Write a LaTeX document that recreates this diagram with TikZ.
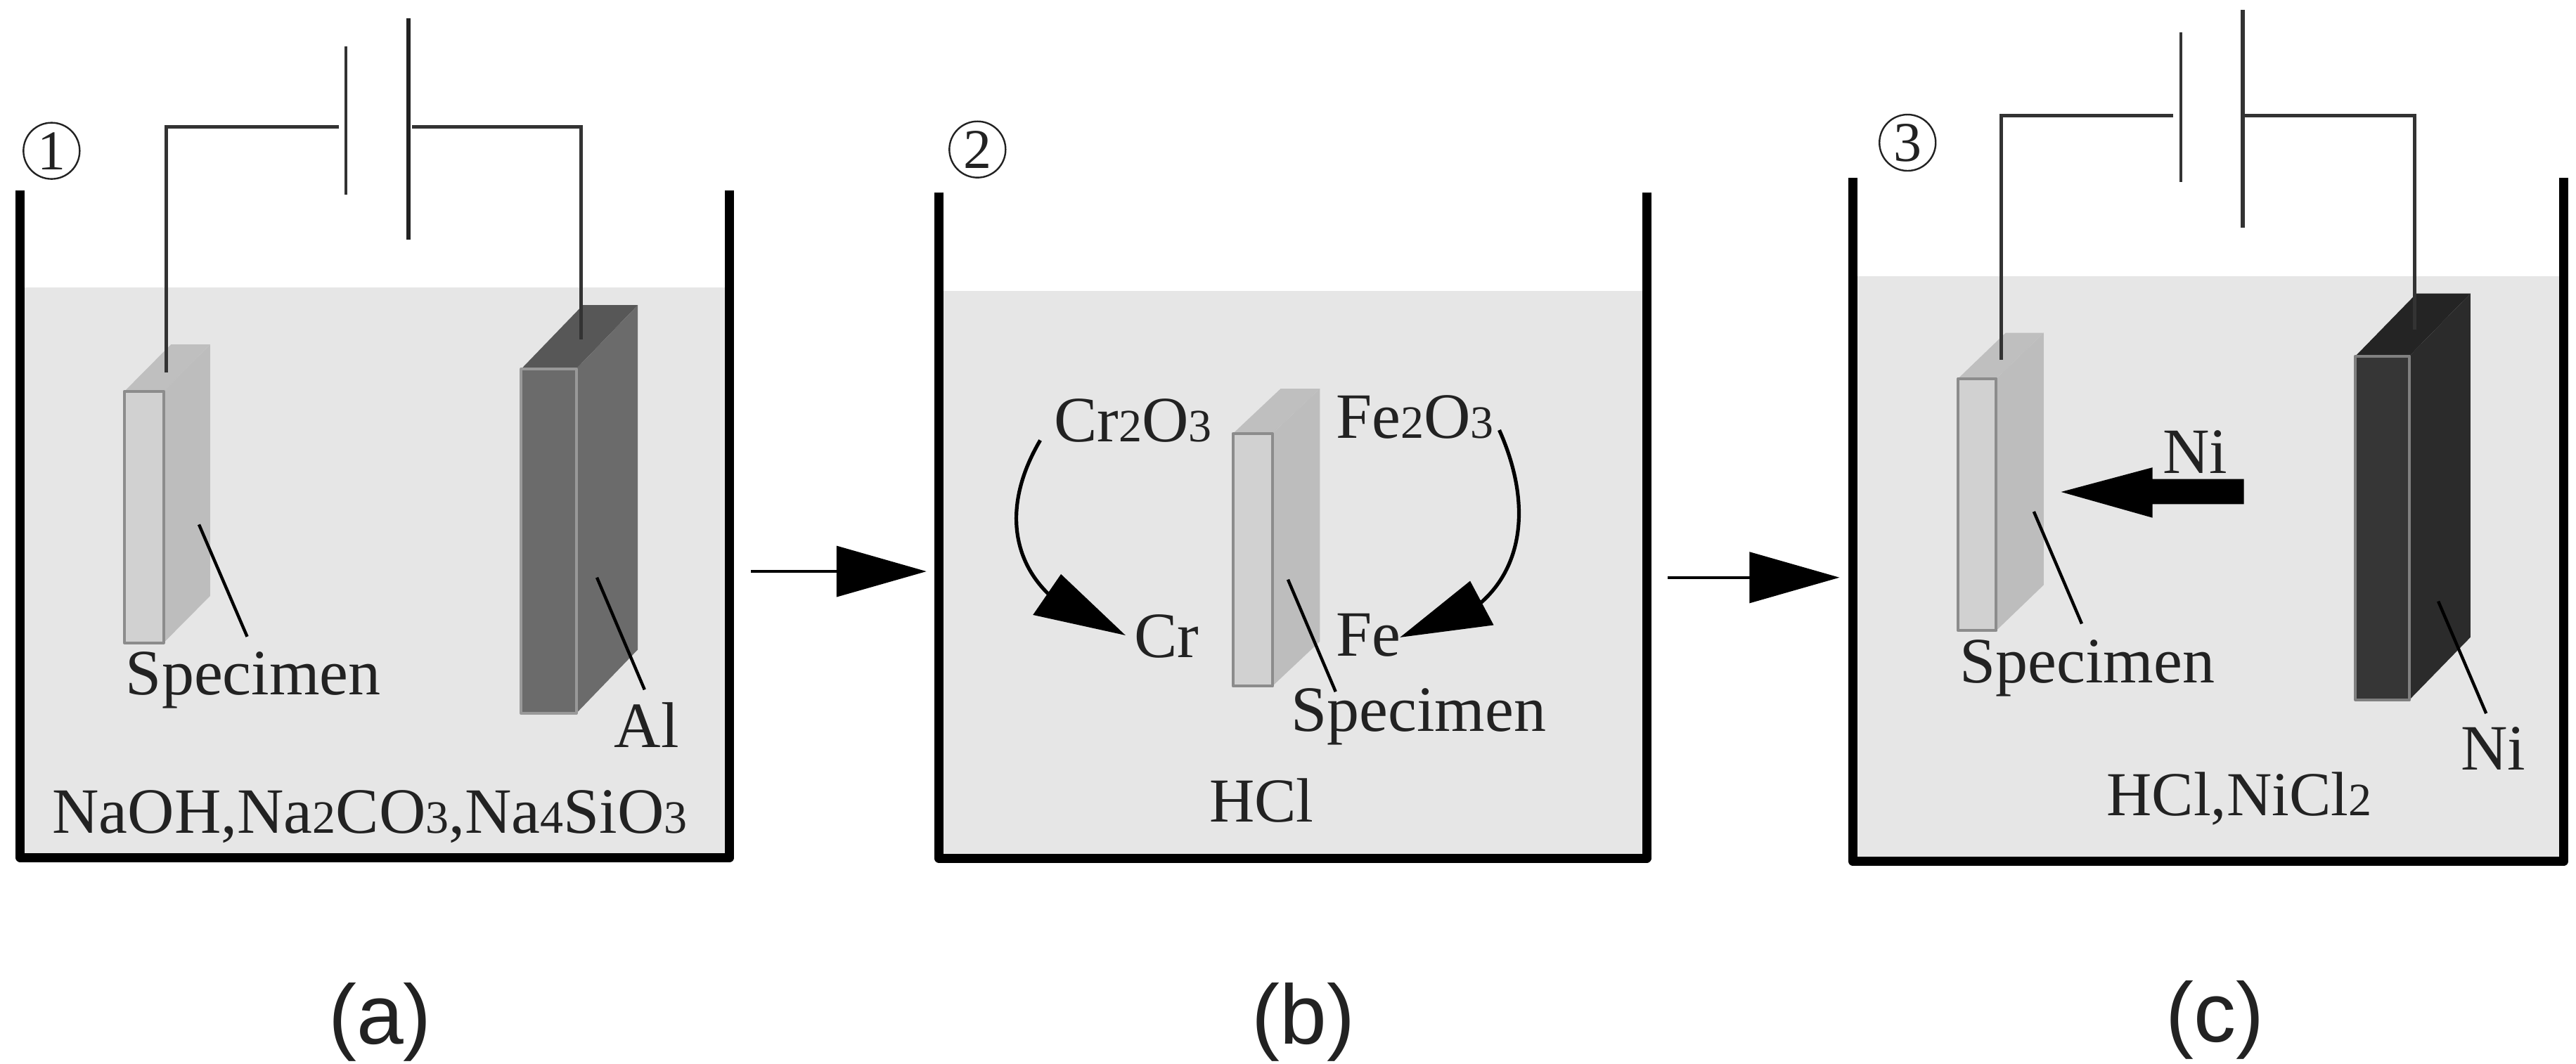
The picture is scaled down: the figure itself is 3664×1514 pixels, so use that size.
\documentclass[tikz,border=0pt]{standalone}
\usepackage{fontspec}
\setmainfont{Liberation Serif}
\newfontfamily\capfont{Liberation Sans}
\usetikzlibrary{arrows.meta,shapes.geometric}
\newcommand{\dg}[1]{{\fontsize{33}{34}\selectfont #1}}
\definecolor{water}{HTML}{E6E6E6}
\definecolor{ink}{HTML}{222222}
\definecolor{wire}{HTML}{333333}
% x1 x2 ytop ybot xb1 ybacktop topcolour sidecolour
\newcommand{\myslab}[8]{%
  \fill[#7] (#1,#3) -- (#5,#6) -- (#2+#5-#1,#6) -- (#2,#3) -- cycle;
  \fill[#8] (#2,#3) -- (#2+#5-#1,#6) -- (#2+#5-#1,#6+#4-#3) -- (#2,#4) -- cycle;
}
\tikzset{
  lab/.style={font=\fontsize{46}{50}\selectfont,text=ink,inner sep=0pt,anchor=base},
  labl/.style={lab,anchor=base west},
  labs/.style={lab,font=\fontsize{44.5}{50}\selectfont},
  captxt/.style={font=\capfont\fontsize{60}{66}\selectfont,text=ink,inner sep=0pt,anchor=base},
  num/.style={circle,draw=ink,line width=1.2pt,minimum size=40pt,inner sep=0pt,font=\fontsize{40}{42}\selectfont,text=ink},
  beaker/.style={draw=black,line width=6.5pt,line join=round},
  wireline/.style={draw=wire,line width=2.4pt,line join=miter},
  plateA/.style={draw=wire,line width=2.3pt},
  plateB/.style={draw=ink,line width=3pt},
  leader/.style={draw=black,line width=2.2pt},
  flow/.style={draw=black,line width=2pt,-{Triangle[length=64pt,width=36pt]}},
  curvy/.style={draw=black,line width=2.6pt},
  headfill/.style={fill=black},
  pa/.style={x=0.3986pt,y=-0.4834pt},
  pb/.style={x=0.3986pt,y=-0.4834pt,xshift=625pt},
  pc/.style={x=0.3871pt,y=-0.4834pt,xshift=1225pt},
  spfront/.style={fill=black!18,draw=black!45,line width=2pt,line join=round},
  alfront/.style={fill=black!58,draw=black!40,line width=2pt,line join=round},
  nifront/.style={fill=black!79,draw=black!50,line width=2pt,line join=round},
}
\begin{document}
\begin{tikzpicture}[x=0.5pt,y=-0.5pt]
\useasboundingbox (0,0) rectangle (3664,1514);
\fill[white] (0,0) rectangle (3664,1514);
% ---------- panel a
\begin{scope}[pa]
  \fill[water] (36,423) rectangle (1302,1262);
  \draw[beaker] (36,280) -- (36,1262) -- (1302,1262) -- (1302,280);
  \myslab{222}{292}{576}{946}{305}{507}{black!25}{black!26}
  \draw[spfront] (222,576) rectangle (292,946);
  \myslab{930}{1028}{543}{1050}{1040}{449}{black!66}{black!58}
  \draw[alfront] (930,543) rectangle (1028,1050);
  \draw[wireline] (605,187) -- (297,187) -- (297,548);
  \draw[wireline] (735,187) -- (1037,187) -- (1037,500);
  \draw[plateA] (617,68) -- (617,286);
  \draw[plateB] (729,27) -- (729,353);
  \draw[leader] (355,772) -- (441,937);
  \draw[leader] (1065,850) -- (1150,1015);
  \node[lab] (a-spec) at (452,1022) {Specimen};
  \node[lab] (a-al) at (1154,1100) {Al};
  \node[lab] (a-sol) at (660,1226) {NaOH,Na\dg{2}CO\dg{3},Na\dg{4}SiO\dg{3}};
  \node[num] (a-num) at (92,222) {1};
  \node[captxt] (a-cap) at (678,1536) {(a)};
  \coordinate (a-out) at (1340,841);
\end{scope}
% ---------- panel b
\begin{scope}[pb]
  \fill[water] (107,428) rectangle (1370,1263);
  \draw[beaker] (107,283) -- (107,1263) -- (1370,1263) -- (1370,283);
  \myslab{632}{702}{638}{1010}{717}{572}{black!25}{black!26}
  \draw[spfront] (632,638) rectangle (702,1010);
  \draw[leader] (730,853) -- (815,1018);
  \node[lab] (b-spec) at (963,1076) {Specimen};
  \node[labs] (b-hcl) at (683,1210) {HCl};
  \node[labl] (b-cro) at (312,650) {Cr\dg{2}O\dg{3}};
  \node[labl] (b-feo) at (815,645) {Fe\dg{2}O\dg{3}};
  \node[labl] (b-cr) at (455,968) {Cr};
  \node[labl] (b-fe) at (815,966) {Fe};
  \draw[curvy] (288,648) .. controls (222,740) and (235,825) .. (310,880);
  \fill[headfill] (440,935) -- (325,845) -- (275,905) -- cycle;
  \draw[curvy] (1107,633) .. controls (1165,740) and (1150,835) .. (1070,890);
  \fill[headfill] (930,938) -- (1055,855) -- (1097,920) -- cycle;
  \node[num] (b-num) at (176,220) {2};
  \node[captxt] (b-cap) at (758,1536) {(b)};
  \coordinate (b-in) at (85,841);
  \coordinate (b-out) at (1408,850);
\end{scope}
% ---------- panel c
\begin{scope}[pc]
  \fill[water] (240,407) rectangle (1545,1268);
  \draw[beaker] (240,262) -- (240,1268) -- (1545,1268) -- (1545,262);
  \myslab{433}{503}{557}{928}{520}{490}{black!25}{black!26}
  \draw[spfront] (433,557) rectangle (503,928);
  \myslab{1163}{1262}{524}{1030}{1275}{432}{black!86}{black!83}
  \draw[nifront] (1163,524) rectangle (1262,1030);
  \draw[wireline] (828,170) -- (512,170) -- (512,530);
  \draw[wireline] (960,170) -- (1272,170) -- (1272,485);
  \draw[plateA] (842,48) -- (842,268);
  \draw[plateB,draw=wire] (956,15) -- (956,335);
  \draw[leader] (572,753) -- (660,918);
  \draw[leader] (1315,885) -- (1403,1050);
  \fill[black] (958,705) -- (790,705) -- (790,688) -- (622,724) -- (790,762) -- (790,742) -- (958,742) -- cycle;
  \node[lab] (c-spec) at (670,1005) {Specimen};
  \node[lab] (c-ni) at (1416,1133) {Ni};
  \node[lab] (c-ni2) at (868,697) {Ni};
  \node[labs] (c-sol) at (949,1200) {HCl,NiCl\dg{2}};
  \node[num] (c-num) at (340,210) {3};
  \node[captxt] (c-cap) at (905,1533) {(c)};
  \coordinate (c-in) at (215,850);
\end{scope}
\draw[flow] (a-out) -- (b-in);
\draw[flow] (b-out) -- (c-in);
\end{tikzpicture}
\end{document}
